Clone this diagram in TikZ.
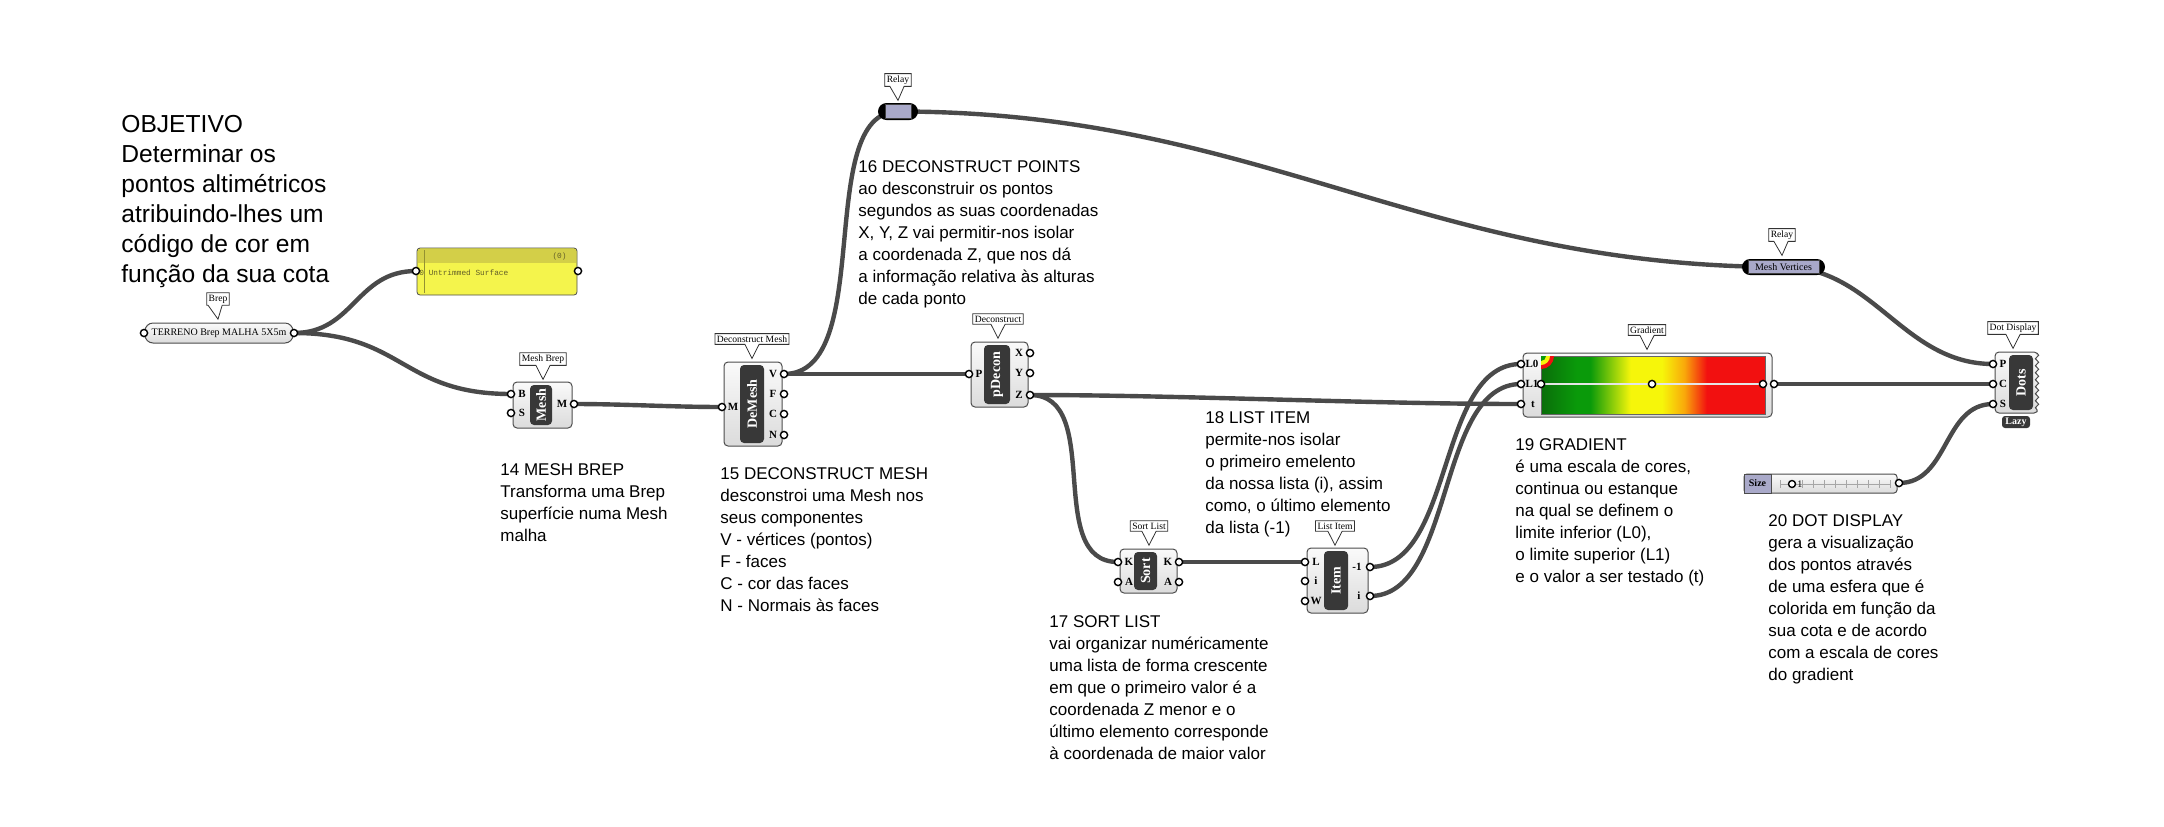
\documentclass[tikz,border=0pt]{standalone}
\usepackage{fontspec}
\setmainfont{Liberation Serif}
\setsansfont{Liberation Sans}
\setmonofont{Liberation Mono}
\usetikzlibrary{shapes.callouts, shapes.misc, decorations.pathmorphing}
\pgfdeclarelayer{wires}
\pgfsetlayers{wires,main}

\definecolor{wirecol}{HTML}{4A4A4A}
\definecolor{relaycol}{HTML}{A9A9C9}
\definecolor{panelcol}{HTML}{F4F44C}
\definecolor{panelhead}{HTML}{D3CF48}
\definecolor{corecol}{HTML}{383838}
\definecolor{gdark}{HTML}{0A6E0A}
\definecolor{ggreen}{HTML}{0A9A0A}
\definecolor{gyellow}{HTML}{F6F60A}
\definecolor{gorange}{HTML}{F9A80A}
\definecolor{gred}{HTML}{F21010}
\pgfdeclarehorizontalshading{gradbar}{100bp}{color(0bp)=(gdark); color(25bp)=(gdark); color(33bp)=(ggreen); color(36bp)=(ggreen); color(45bp)=(gyellow); color(52bp)=(gyellow); color(57bp)=(gorange); color(62bp)=(gred); color(75bp)=(gred); color(100bp)=(gred)}

\tikzset{
	wire/.style={draw=wirecol, line width=2.2pt}, % cables entre componentes
	comp/.style={draw=gray!60!black, line width=0.5pt, rounded corners=2pt, top color=gray!4, bottom color=gray!28, inner sep=0pt}, % cuerpo del componente
	core/.style={fill=corecol, rounded corners=2pt, inner sep=0pt, text=white, font=\bfseries\fontsize{7}{7}\selectfont}, % parte oscura central
	tag/.style={rectangle callout, draw=black!80, fill=white, line width=0.4pt, callout relative pointer={(0,-7pt)}, inner sep=1pt, font=\fontsize{4.8}{5}\selectfont}, % etiqueta del nombre
	port/.style={circle, draw=black, fill=white, line width=0.7pt, inner sep=0pt, minimum size=3.6pt}, % entradas y salidas
	plabel/.style={inner sep=0pt, font=\bfseries\fontsize{5.5}{6}\selectfont}, % letra del puerto
	relaybox/.style={rounded rectangle, fill=black, inner sep=0pt}, % relay
	note/.style={anchor=north west, align=left, inner sep=0pt, font=\sffamily\fontsize{8.5}{11}\selectfont}, % textos explicativos
	big/.style={anchor=north west, align=left, inner sep=0pt, font=\sffamily\fontsize{12.3}{15}\selectfont} % titulo
}

\begin{document}
\begin{tikzpicture}[x=0.5pt, y=-0.5pt]
\useasboundingbox (0,0) rectangle (2164,826);

% textos
\node[big] (objetivo) at (121,115) {OBJETIVO\\Determinar os\\pontos altimétricos\\atribuindo-lhes um\\código de cor em\\função da sua cota};
\node[note] (n14) at (500,463) {14 MESH BREP\\Transforma uma Brep\\superfície numa Mesh\\malha};
\node[note] (n15) at (720,467) {15 DECONSTRUCT MESH\\desconstroi uma Mesh nos\\seus componentes\\V - vértices (pontos)\\F - faces\\C - cor das faces\\N - Normais às faces};
\node[note] (n16) at (858,160) {16 DECONSTRUCT POINTS\\ao desconstruir os pontos\\segundos as suas coordenadas\\X, Y, Z vai permitir-nos isolar\\a coordenada Z, que nos dá\\a informação relativa às alturas\\de cada ponto};
\node[note] (n17) at (1049,615) {17 SORT LIST\\vai organizar numéricamente\\uma lista de forma crescente\\em que o primeiro valor é a\\coordenada Z menor e o\\último elemento corresponde\\à coordenada de maior valor};
\node[note] (n18) at (1205,411) {18 LIST ITEM\\permite-nos isolar\\o primeiro emelento\\da nossa lista (i), assim\\como, o último elemento\\da lista (-1)};
\node[note] (n19) at (1515,438) {19 GRADIENT\\é uma escala de cores,\\continua ou estanque\\na qual se definem o\\limite inferior (L0),\\o limite superior (L1)\\e o valor a ser testado (t)};
\node[note] (n20) at (1768,514) {20 DOT DISPLAY\\gera a visualização\\dos pontos através\\de uma esfera que é\\colorida em função da\\sua cota e de acordo\\com a escala de cores\\do gradient};

% Brep
\node[comp, rounded corners=4pt, minimum width=74pt, minimum height=10pt, font=\fontsize{5}{5}\selectfont] (brep) at (219,333) {TERRENO Brep MALHA 5X5m};
\node[port] (brep-in) at (144,333) {};
\node[port] (brep-out) at (294,333) {};
\node[tag] (brep-tag) at (218,299) {Brep};

% panel
\node[draw=gray!60!black, fill=panelcol, rounded corners=1.5pt, minimum width=80pt, minimum height=23.5pt, inner sep=0pt] (panel) at (497,271.5) {};
\fill[panelhead] (418,248.6) rectangle (576,263);
\draw[panelhead!70!black, line width=0.3pt] (424,250) -- (424,293);
\node[anchor=east, inner sep=0pt, text=olive!60!black, font=\ttfamily\fontsize{3.9}{4}\selectfont] (panel-count) at (567,256) {(0)};
\node[anchor=west, inner sep=0pt, text=olive!60!black, font=\ttfamily\fontsize{3.9}{4}\selectfont] (panel-text) at (419,273) {0 Untrimmed Surface};
\node[port] (panel-in) at (416,271) {};
\node[port] (panel-out) at (578,271) {};

% Mesh Brep
\node[comp, minimum width=29.5pt, minimum height=23pt] (meshbrep) at (542.5,405) {};
\node[core, minimum width=11pt, minimum height=20pt] (meshbrep-core) at (541,405) {\rotatebox{90}{Mesh}};
\node[tag] (meshbrep-tag) at (543,359) {Mesh Brep};
\node[port] (meshbrep-B) at (511,394) {};
\node[port] (meshbrep-S) at (511,413) {};
\node[port] (meshbrep-M) at (574,404) {};
\node[plabel] at (522,394) {B};
\node[plabel] at (522,413) {S};
\node[plabel] at (562,404) {M};

% Deconstruct Mesh
\node[comp, minimum width=29pt, minimum height=42pt] (demesh) at (753,404) {};
\node[core, minimum width=12pt, minimum height=39pt] (demesh-core) at (752,404) {\rotatebox{90}{DeMesh}};
\node[tag] (demesh-tag) at (752,339) {Deconstruct Mesh};
\node[port] (demesh-M) at (722,407) {};
\node[plabel] at (733,407) {M};
\foreach \p/\y in {V/374, F/394, C/414, N/435}{
	\node[port] (demesh-\p) at (784,\y) {};
	\node[plabel] at (773,\y) {\p};
}

% Deconstruct
\node[comp, minimum width=28.5pt, minimum height=32.5pt] (pdecon) at (999.5,374.5) {};
\node[core, minimum width=13pt, minimum height=29.5pt] (pdecon-core) at (997,374.5) {\rotatebox{90}{pDecon}};
\node[tag] (pdecon-tag) at (998,319) {Deconstruct};
\node[port] (pdecon-P) at (969,374) {};
\node[plabel] at (979,374) {P};
\foreach \p/\y in {X/353, Y/373, Z/395}{
	\node[port] (pdecon-\p) at (1030,\y) {};
	\node[plabel] at (1019,\y) {\p};
}

% relays
\node[relaybox, minimum width=20pt, minimum height=8.5pt] (relay1) at (898,111.5) {};
\node[fill=relaycol, draw=gray!50!black, line width=0.3pt, minimum width=13pt, minimum height=7pt, inner sep=0pt] (relay1-in) at (898,111.5) {};
\node[tag] (relay1-tag) at (898,80) {Relay};
\node[relaybox, minimum width=41.5pt, minimum height=8pt] (relay2) at (1783.5,267) {};
\node[fill=relaycol, draw=gray!50!black, line width=0.3pt, minimum width=35.5pt, minimum height=6.6pt, inner sep=0pt, font=\fontsize{5}{5}\selectfont] (relay2-in) at (1783.5,267) {Mesh Vertices};
\node[tag] (relay2-tag) at (1782,235) {Relay};

% Sort List
\node[comp, minimum width=28.5pt, minimum height=22pt] (sort) at (1148.5,571) {};
\node[core, minimum width=11.5pt, minimum height=19pt] (sort-core) at (1145.5,571) {\rotatebox{90}{Sort}};
\node[tag] (sort-tag) at (1149,526) {Sort List};
\node[port] (sort-K) at (1118,562) {};
\node[port] (sort-A) at (1118,582) {};
\node[port] (sort-Kout) at (1179,562) {};
\node[port] (sort-Aout) at (1179,582) {};
\node[plabel] at (1129,562) {K};
\node[plabel] at (1129,582) {A};
\node[plabel] at (1168,562) {K};
\node[plabel] at (1168,582) {A};

% List Item
\node[comp, minimum width=30.5pt, minimum height=32.5pt] (item) at (1337.5,580.5) {};
\node[core, minimum width=12pt, minimum height=29.5pt] (item-core) at (1336,580.5) {\rotatebox{90}{Item}};
\node[tag] (item-tag) at (1335,526) {List Item};
\node[port] (item-L) at (1305,562) {};
\node[port] (item-i) at (1305,581) {};
\node[port] (item-W) at (1305,601) {};
\node[port] (item-last) at (1370,567) {};
\node[port] (item-iout) at (1370,596) {};
\node[plabel] at (1316,562) {L};
\node[plabel] at (1316,581) {i};
\node[plabel] at (1316,601) {W};
\node[plabel] at (1357,567) {-1};
\node[plabel] at (1359,596) {i};

% Gradient
\node[comp, minimum width=124.5pt, minimum height=32pt] (grad) at (1647.5,385) {};
\shade[shading=gradbar, draw=black!60, line width=0.4pt] (1541,356) rectangle (1765,414);
\begin{scope}
	\clip (1541,356) rectangle (1555,370);
	\fill[gred] (1541,356) circle[radius=13];
	\fill[gyellow] (1541,356) circle[radius=9];
	\fill[ggreen] (1541,356) circle[radius=5];
\end{scope}
\draw[black!75, line width=1.4pt] (1541,384) -- (1765,384);
\draw[gray!20, line width=0.6pt] (1541,384) -- (1765,384);
\node[port] (grad-h1) at (1541,384) {};
\node[port] (grad-h2) at (1652,384) {};
\node[port] (grad-h3) at (1763,384) {};
\node[tag] (grad-tag) at (1647,330) {Gradient};
\node[port] (grad-L0) at (1521,364) {};
\node[port] (grad-L1) at (1521,384) {};
\node[port] (grad-t) at (1521,404) {};
\node[port] (grad-out) at (1774,384) {};
\node[plabel] at (1532,364) {L0};
\node[plabel] at (1532,384) {L1};
\node[plabel] at (1533,404) {t};

% Dot Display
\node[comp, minimum width=21.5pt, minimum height=30.5pt] (dots) at (2016.5,382.5) {};
\fill[white] (2036.5,350) rectangle (2044,415);
\draw[gray!60!black, line width=0.5pt, decorate, decoration={snake, amplitude=0.8pt, segment length=3.5pt}] (2037,353) -- (2037,412);
\node[core, minimum width=12pt, minimum height=27.5pt] (dots-core) at (2021,382.5) {\rotatebox{90}{Dots}};
\node[core, rounded corners=1.5pt, minimum width=14pt, minimum height=6pt, font=\bfseries\fontsize{5}{5}\selectfont] (lazy) at (2016,422) {Lazy};
\node[tag] (dots-tag) at (2013,328) {Dot Display};
\foreach \p/\y in {P/364, C/384, S/404}{
	\node[port] (dots-\p) at (1993,\y) {};
	\node[plabel] at (2003,\y) {\p};
}

% slider
\node[comp, rounded corners=1.5pt, minimum width=76.5pt, minimum height=9.5pt] (slider) at (1820.5,483.5) {};
\node[fill=relaycol, draw=gray!60!black, line width=0.4pt, minimum width=13.5pt, minimum height=9.5pt, inner sep=0pt, font=\bfseries\fontsize{5}{5}\selectfont] (slider-name) at (1757.5,483.5) {Size};
\draw[gray!70] (1780,484) -- (1890,484);
\foreach \i in {0,...,10}
	\draw[gray!70] (1780+\i*11,480) -- (1780+\i*11,488);
\node[port, minimum size=3.5pt] (slider-knob) at (1792,484) {};
\node[anchor=west, inner sep=0pt, font=\fontsize{5}{5}\selectfont] at (1797,484) {1};
\node[port] (slider-out) at (1899,483) {};

% cables
\begin{pgfonlayer}{wires}
\draw[wire] (brep-out.center) .. controls +(60,0) and +(-60,0) .. (panel-in.center);
\draw[wire] (brep-out.center) .. controls +(110,0) and +(-110,0) .. (meshbrep-B.center);
\draw[wire] (meshbrep-M.center) .. controls +(50,0) and +(-50,0) .. (demesh-M.center);
\draw[wire] (demesh-V.center) .. controls +(93,0) and +(-85,0) .. (relay1.center);
\draw[wire] (demesh-V.center) -- (pdecon-P.center);
\draw[wire] (relay1.center) .. controls +(360,0) and +(-360,0) .. (relay2.center);
\draw[wire] (relay2.center) .. controls +(90,0) and +(-90,0) .. (dots-P.center);
\draw[wire] (pdecon-Z.center) .. controls +(150,0) and +(-150,0) .. (grad-t.center);
\draw[wire] (pdecon-Z.center) .. controls +(75,0) and +(-75,0) .. (sort-K.center);
\draw[wire] (sort-Kout.center) -- (item-L.center);
\draw[wire] (item-last.center) .. controls +(85,0) and +(-85,0) .. (grad-L0.center);
\draw[wire] (item-iout.center) .. controls +(85,0) and +(-85,0) .. (grad-L1.center);
\draw[wire] (grad-out.center) -- (dots-C.center);
\draw[wire] (slider-out.center) .. controls +(50,0) and +(-50,0) .. (dots-S.center);
\end{pgfonlayer}
\end{tikzpicture}
\end{document}
